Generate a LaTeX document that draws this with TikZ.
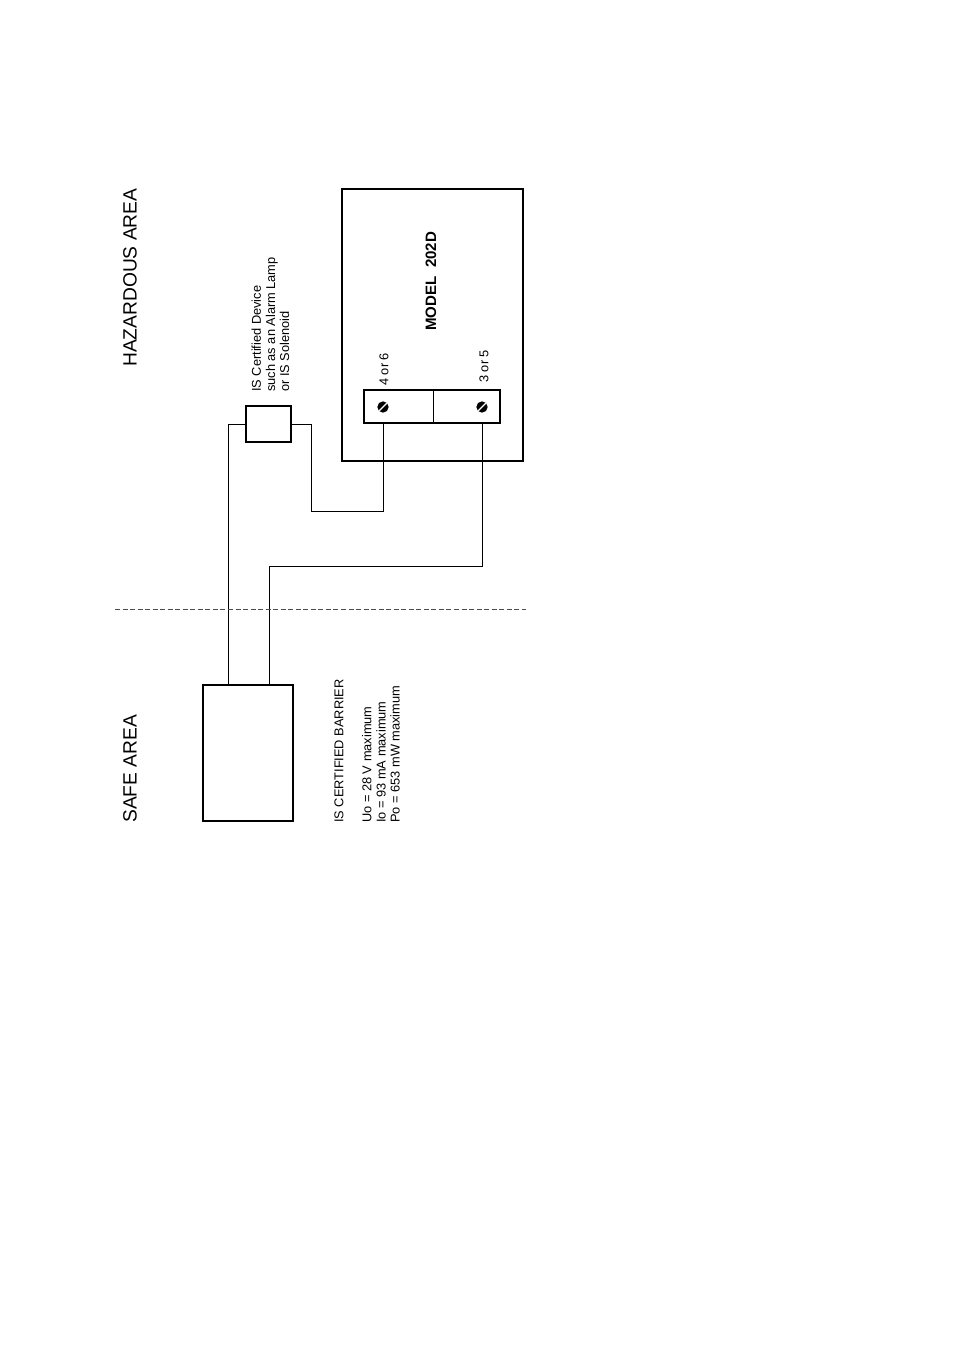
\documentclass[tikz,border=0pt]{standalone}
\usepackage{fontspec}
\setmainfont{Liberation Sans}
\begin{document}
\begin{tikzpicture}[x=0.75pt,y=-0.75pt,
  heavybox/.style={draw=black,line width=1.7pt,fill=white,inner sep=0pt,outer sep=0pt},
  thinbox/.style={draw=black,line width=1.2pt,inner sep=0pt,outer sep=0pt},
  wire/.style={draw=black,line width=0.7pt},
  title/.style={rotate=90,anchor=west,font=\fontsize{14.4}{18}\selectfont,inner sep=0pt},
  note/.style={rotate=90,anchor=west,align=left,font=\fontsize{9.6}{10.6}\selectfont,inner sep=0pt},
  screwhead/.style={circle,fill=black,minimum size=8.5pt,inner sep=0pt,outer sep=0pt}]
\useasboundingbox (0,0) rectangle (954,1351);
% main boxes
\node[heavybox,minimum width=136pt,minimum height=204pt] (model) at (432.5,325) {};
\node[heavybox,minimum width=34pt,minimum height=27pt] (device) at (268.5,424) {};
\node[heavybox,minimum width=68pt,minimum height=102pt] (barrier) at (248,753) {};
% terminal block
\node[thinbox,minimum width=102pt,minimum height=24.75pt] (term) at (432,406.5) {};
\coordinate (splitTop) at (433,390);
\coordinate (splitBot) at (433,423);
\draw[black,line width=0.7pt] (splitTop) -- (splitBot);
\node[screwhead] (screwA) at (383,407) {};
\node[screwhead] (screwB) at (482,407) {};
\draw[white,line width=1pt] (screwA.south west) -- (screwA.north east);
\draw[white,line width=1pt] (screwB.south west) -- (screwB.north east);
% connector ends
\coordinate (feedA) at (228,685);
\coordinate (feedB) at (269,685);
\coordinate (termAend) at (383,423);
\coordinate (termBend) at (482,423);
\coordinate (jogA) at (311,511);
\coordinate (jogB) at (269,566);
% wires
\draw[wire] (device.west) -| (feedA);
\draw[wire] (device.east) -| (jogA) -| (termAend);
\draw[wire] (feedB) -- (jogB) -| (termBend);
% divider
\coordinate (divL) at (115,609);
\coordinate (divR) at (526,609);
\draw[black!70,line width=0.7pt,dash pattern=on 3.75pt off 1.9pt] (divL) -- (divR);
% text
\node[title] (haz) at (130,367) {HAZARDOUS AREA};
\node[title] (safe) at (130,823) {SAFE AREA};
\node[note] (devtext) at (270.5,392) {IS Certified Device\\such as an Alarm Lamp\\or IS Solenoid};
\node[note] (bartext1) at (339,823) {IS CERTIFIED BARRIER};
\node[note] (bartext2) at (381,823) {Uo = 28 V maximum\\Io = 93 mA maximum\\Po = 653 mW maximum};
\node[note] (lblA) at (384,386) {4 or 6};
\node[note] (lblB) at (484,383) {3 or 5};
\node[note,font=\fontsize{11.3}{12}\selectfont\bfseries] (mtext) at (431,331) {MODEL\ \ 202D};
\end{tikzpicture}
\end{document}
